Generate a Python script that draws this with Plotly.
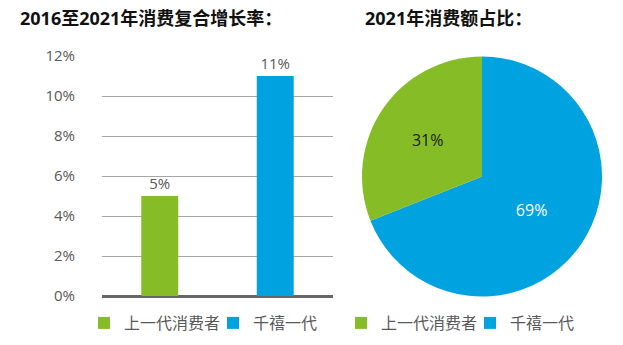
import plotly.graph_objects as go

# Data
series_names = ["上一代消费者", "千禧一代"]
growth_rates = [5, 11]          # 2016-2021 CAGR, %
spend_share = [31, 69]          # 2021 share of spending, %
colors = ["#86bc25", "#00a3e0"]
pie_text_colors = ["#1a1a1a", "#ffffff"]
y_ticks = [0, 2, 4, 6, 8, 10, 12]
y_tick_labels = [f"{v}%" for v in y_ticks]

FONT = "Open Sans, Noto Sans CJK SC, sans-serif"
GRAY = "#595959"

fig = go.Figure()

for name, val, col in zip(series_names, growth_rates, colors):
    fig.add_trace(go.Bar(
        x=[name], y=[val], name=name,
        marker=dict(color=col, line=dict(width=0)),
        width=0.32,
        text=[f"{val}%"], textposition="outside",
        textfont=dict(family=FONT, size=15, color=GRAY),
        cliponaxis=False,
        legend="legend",
        showlegend=True,
    ))

# pie drawn clockwise from 12 o'clock: 千禧一代 first, then 上一代消费者
fig.add_trace(go.Pie(
    labels=series_names[::-1], values=spend_share[::-1],
    marker=dict(colors=colors[::-1], line=dict(width=0)),
    sort=False, direction="clockwise", rotation=0,
    textinfo="percent", textposition="inside",
    insidetextfont=dict(family=FONT, size=16, color=pie_text_colors[::-1]),
    insidetextorientation="horizontal",
    domain=dict(x=[362/623, 602/623], y=[(345-296.5)/345, (345-56.5)/345]),
    legend="legend2",
    hoverinfo="label+percent",
))

fig.update_layout(
    width=623, height=345,
    margin=dict(l=0, r=0, t=0, b=0, autoexpand=False),
    paper_bgcolor="white", plot_bgcolor="white",
    barmode="overlay",
    font=dict(family=FONT, color=GRAY, size=15),
    xaxis=dict(domain=[102/623, 333/623], range=[-0.5, 1.5],
               showticklabels=False, showgrid=False, zeroline=False,
               showline=False, ticks=""),
    yaxis=dict(domain=[(345-296)/345, (345-56)/345], range=[0, 12],
               tickvals=y_ticks, ticktext=y_tick_labels,
               showgrid=True, gridcolor="#a6a6a6", gridwidth=1,
               zeroline=True, zerolinecolor="#666666", zerolinewidth=3,
               showline=False, ticks="", ticklabelstandoff=26,
               tickfont=dict(family=FONT, size=15, color=GRAY)),
    legend=dict(orientation="h", x=84/623, y=(345-323)/345,
                xanchor="left", yanchor="middle", entrywidth=84,
                font=dict(family=FONT, size=16, color=GRAY),
                bgcolor="rgba(0,0,0,0)", itemclick=False),
    legend2=dict(orientation="h", x=341/623, y=(345-323)/345,
                 xanchor="left", yanchor="middle", entrywidth=84,
                 traceorder="reversed",
                 font=dict(family=FONT, size=16, color=GRAY),
                 bgcolor="rgba(0,0,0,0)", itemclick=False),
    annotations=[
        dict(text="<b>2016至2021年消费复合增长率：</b>", x=18/623, y=(345-18)/345,
             xref="paper", yref="paper", xanchor="left", yanchor="middle",
             showarrow=False, font=dict(family=FONT, size=18, color="#111111")),
        dict(text="<b>2021年消费额占比：</b>", x=363/623, y=(345-18)/345,
             xref="paper", yref="paper", xanchor="left", yanchor="middle",
             showarrow=False, font=dict(family=FONT, size=18, color="#111111")),
    ],
)

fig.write_html("out.html")
